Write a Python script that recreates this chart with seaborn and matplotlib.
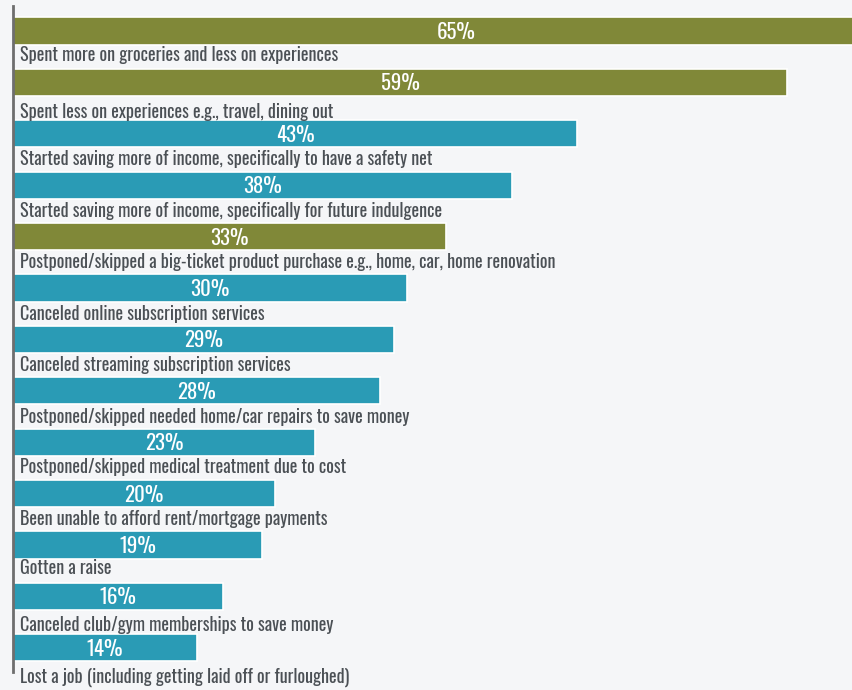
import matplotlib
matplotlib.use("Agg")
import matplotlib.pyplot as plt
import seaborn as sns
import pandas as pd

categories = [
    "Spent more on groceries and less on experiences",
    "Spent less on experiences e.g., travel, dining out",
    "Started saving more of income, specifically to have a safety net",
    "Started saving more of income, specifically for future indulgence",
    "Postponed/skipped a big-ticket product purchase e.g., home, car, home renovation",
    "Canceled online subscription services",
    "Canceled streaming subscription services",
    "Postponed/skipped needed home/car repairs to save money",
    "Postponed/skipped medical treatment due to cost",
    "Been unable to afford rent/mortgage payments",
    "Gotten a raise",
    "Canceled club/gym memberships to save money",
    "Lost a job (including getting laid off or furloughed)",
]
values = [65, 59, 43, 38, 33, 30, 29, 28, 23, 20, 19, 16, 14]
groups = ["A", "A", "B", "B", "A", "B", "B", "B", "B", "B", "B", "B", "B"]

df = pd.DataFrame({"category": categories, "value": values, "group": groups})

# layout: vertical offset of each caption below its bar (in bar units)
label_dy = [0.47, 0.58, 0.5, 0.5, 0.49, 0.5, 0.49, 0.5, 0.49, 0.5, 0.45, 0.56, 0.58]

OLIVE = "#808838"
TEAL = "#2a9bb5"
BG = "#f5f6f8"

sns.set_theme(style="white")
FONT = ["Oswald", "Barlow Condensed", "Archivo Narrow", "DejaVu Sans"]
plt.rcParams["font.family"] = FONT

fig = plt.figure(figsize=(8.53, 6.90), dpi=100, facecolor=BG)
ax = fig.add_axes([13 / 853, (690 - 672) / 690, 1 - 13 / 853, (672 - 6) / 690])
ax.set_facecolor(BG)

sns.barplot(data=df, x="value", y="category", hue="group", order=categories,
            palette={"A": OLIVE, "B": TEAL}, dodge=False, width=0.53,
            saturation=1, edgecolor="white", linewidth=1.2, legend=False, ax=ax)

ax.set_xlim(0, 64)
ax.set_ylim(12.47, -0.486)
ax.set_xlabel("")
ax.set_ylabel("")
ax.set_xticks([])
ax.set_yticks([])
for s in ["top", "right", "bottom"]:
    ax.spines[s].set_visible(False)
ax.spines["left"].set_color("#6e6e6e")
ax.spines["left"].set_linewidth(2)

for i, (cat, v) in enumerate(zip(categories, values)):
    ax.text(v / 2 + (1.3 if v > 64 else 0), i + 0.02, f"{v}%", color="white",
            ha="center", va="center", fontsize=15, fontweight="light", family=FONT)
    ax.text(0.5, i + label_dy[i], cat, color="#4b5055", ha="left", va="center",
            fontsize=13, fontweight="normal", family=FONT)

fig.savefig("out.png", dpi=100, facecolor=BG)
